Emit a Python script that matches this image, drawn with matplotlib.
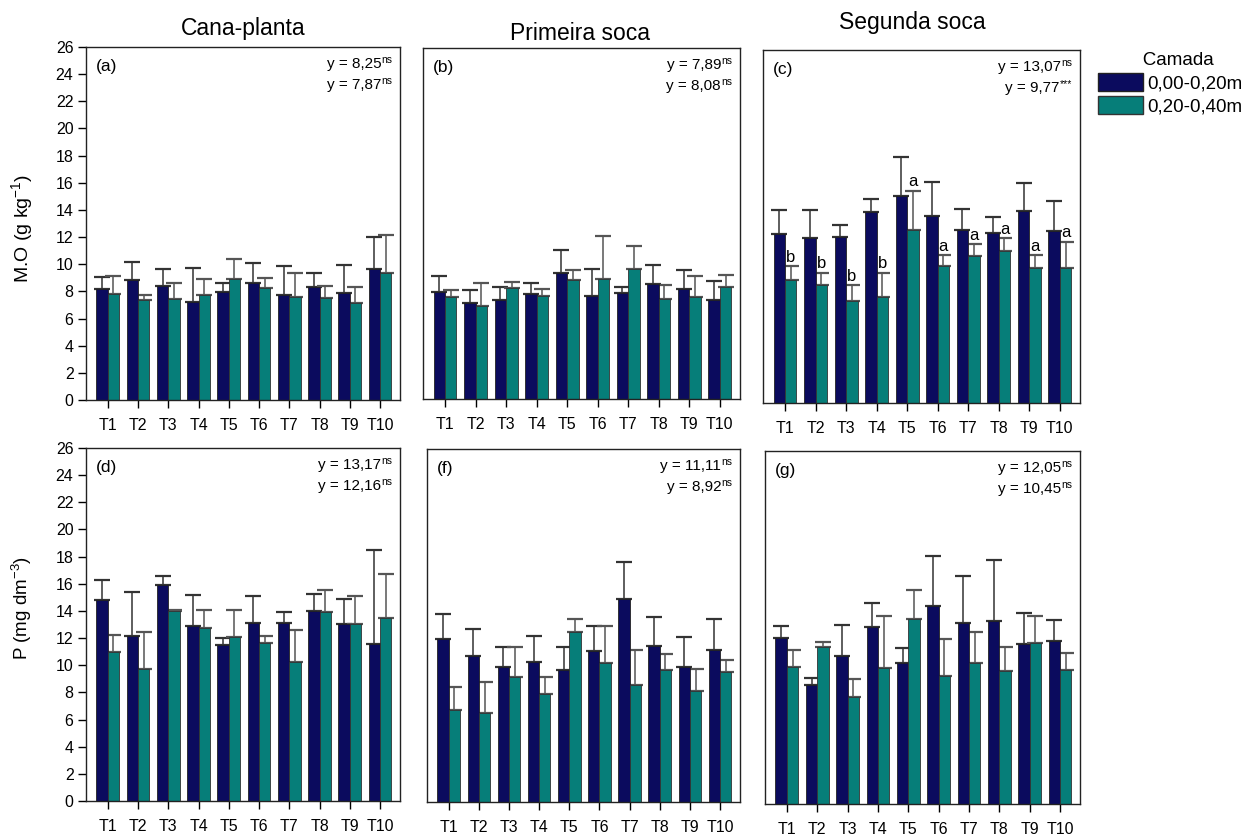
import matplotlib
matplotlib.use("Agg")
import matplotlib.pyplot as plt
import numpy as np
from matplotlib.patches import Patch

plt.rcParams['font.family'] = ['Liberation Sans', 'DejaVu Sans']
plt.rcParams['mathtext.fontset'] = 'custom'
plt.rcParams['mathtext.rm'] = 'Liberation Sans'
plt.rcParams['mathtext.it'] = 'Liberation Sans:italic'

treatments = ["T1", "T2", "T3", "T4", "T5", "T6", "T7", "T8", "T9", "T10"]
layers = ["0,00-0,20m", "0,20-0,40m"]

# (a) M.O - Cana-planta
a_top = [8.16, 8.85, 8.40, 7.25, 7.99, 8.60, 7.74, 8.33, 7.91, 9.68]
a_top_sd = [0.88, 1.35, 1.23, 2.50, 0.66, 1.50, 2.14, 1.01, 2.02, 2.36]
a_sub = [7.81, 7.35, 7.42, 7.74, 8.94, 8.23, 7.59, 7.49, 7.15, 9.34]
a_sub_sd = [1.35, 0.39, 1.23, 1.18, 1.43, 0.76, 1.75, 0.94, 1.15, 2.80]

# (b) M.O - Primeira soca
b_top = [7.93, 7.09, 7.31, 7.80, 9.33, 7.65, 7.88, 8.52, 8.15, 7.33]
b_top_sd = [1.16, 0.96, 0.96, 0.79, 1.68, 1.98, 0.39, 1.41, 1.43, 1.44]
b_sub = [7.56, 6.91, 8.22, 7.65, 8.79, 8.86, 9.65, 7.41, 7.56, 8.30]
b_sub_sd = [0.49, 1.68, 0.42, 0.50, 0.79, 3.19, 1.66, 1.03, 1.53, 0.91]

# (c) M.O - Segunda soca
c_top = [12.46, 12.12, 12.21, 14.05, 15.28, 13.74, 12.75, 12.51, 14.13, 12.68]
c_top_sd = [1.74, 2.08, 0.89, 0.94, 2.85, 2.57, 1.57, 1.20, 2.06, 2.23]
c_sub = [9.08, 8.68, 7.48, 7.82, 12.75, 10.10, 10.84, 11.23, 9.96, 9.93]
c_sub_sd = [1.00, 0.93, 1.18, 1.79, 2.90, 0.77, 0.86, 0.89, 0.93, 1.94]
c_letters = ["b", "b", "b", "b", "a", "a", "a", "a", "a", "a"]

# (d) P - Cana-planta
d_top = [14.81, 12.13, 15.92, 12.87, 11.49, 13.11, 13.11, 13.97, 13.01, 11.59]
d_top_sd = [1.50, 3.27, 0.64, 2.31, 0.49, 2.02, 0.84, 1.28, 1.90, 6.91]
d_sub = [11.00, 9.72, 14.02, 12.74, 12.05, 11.66, 10.21, 13.92, 13.01, 13.48]
d_sub_sd = [1.23, 2.75, 0.08, 1.33, 2.02, 0.52, 2.39, 1.60, 2.12, 3.22]

# (f) P - Primeira soca
f_top = [11.98, 10.77, 9.96, 10.31, 9.74, 11.12, 14.96, 11.46, 9.96, 11.17]
f_top_sd = [1.85, 1.97, 1.43, 1.94, 1.70, 1.87, 2.75, 2.17, 2.22, 2.31]
f_sub = [6.81, 6.59, 9.23, 7.92, 12.55, 10.23, 8.59, 9.69, 8.19, 9.55]
f_sub_sd = [1.68, 2.22, 2.21, 1.28, 0.93, 2.76, 2.58, 1.21, 1.58, 0.88]

# (g) P - Segunda soca
g_top = [12.26, 8.73, 10.91, 13.02, 10.42, 14.59, 13.32, 13.51, 11.80, 12.02]
g_top_sd = [0.86, 0.54, 2.29, 1.79, 1.08, 3.66, 3.48, 4.44, 2.28, 1.52]
g_sub = [10.08, 11.58, 7.87, 10.03, 13.61, 9.44, 10.35, 9.79, 11.87, 9.84]
g_sub_sd = [1.28, 0.37, 1.33, 3.85, 2.16, 2.73, 2.31, 1.76, 2.01, 1.30]

panel_labels = ["(a)", "(b)", "(c)", "(d)", "(f)", "(g)"]
stats_top = ["8,25", "7,89", "13,07", "13,17", "11,11", "12,05"]
stats_sub = ["7,87", "8,08", "9,77", "12,16", "8,92", "10,45"]
sig_top = ["ns", "ns", "ns", "ns", "ns", "ns"]
sig_sub = ["ns", "ns", "***", "ns", "ns", "ns"]
col_titles = ["Cana-planta", "Primeira soca", "Segunda soca"]

navy = "#0b0b5e"
teal = "#067e79"
W, H = 1258, 835

# axes boxes in pixels: left, top, right, bottom
boxes = [(86, 47, 400, 400), (423, 48, 740, 399), (763, 50, 1080, 403),
         (86, 448, 400, 801), (427, 449, 740, 802), (765, 451, 1080, 804)]

panels = [(a_top, a_top_sd, a_sub, a_sub_sd), (b_top, b_top_sd, b_sub, b_sub_sd),
          (c_top, c_top_sd, c_sub, c_sub_sd), (d_top, d_top_sd, d_sub, d_sub_sd),
          (f_top, f_top_sd, f_sub, f_sub_sd), (g_top, g_top_sd, g_sub, g_sub_sd)]


def stat_text(ax, ypos, value, sig):
    # superscript first (right aligned), then the main text hooked to its left edge
    sup = ax.text(0.975, ypos + 0.012, sig, transform=ax.transAxes, fontsize=7.5,
                  ha="right", va="center")
    ax.annotate("y = " + value, xy=(0, 0.5), xycoords=sup, xytext=(0, -3),
                textcoords="offset points", fontsize=11, ha="right", va="center")


fig = plt.figure(figsize=(W / 100, H / 100), dpi=100)
x = np.arange(len(treatments))
w = 0.375

for i, (box, data) in enumerate(zip(boxes, panels)):
    l, t, r, b = box
    ax = fig.add_axes([l / W, 1 - b / H, (r - l) / W, (b - t) / H])
    top, top_sd, sub, sub_sd = data
    ax.bar(x - w / 2, top, w, color=navy, edgecolor="#222222", linewidth=0.6, zorder=2)
    ax.bar(x + w / 2, sub, w, color=teal, edgecolor="#333333", linewidth=0.6, zorder=2)
    ax.errorbar(x - w / 2, top, yerr=[np.zeros(len(top)), top_sd], fmt="none",
                ecolor="#333333", elinewidth=1.1, capsize=5.5, capthick=1.6, zorder=1)
    ax.errorbar(x + w / 2, sub, yerr=[np.zeros(len(sub)), sub_sd], fmt="none",
                ecolor="#555555", elinewidth=1.1, capsize=5.5, capthick=1.6, zorder=1)
    ax.set_xlim(-0.72, 9.66)
    ax.set_ylim(0, 26)
    ax.set_xticks(x)
    ax.set_xticklabels(treatments, fontsize=11.5)
    ax.tick_params(axis="x", direction="out", length=6, width=1, pad=7)
    if i in (0, 3):
        ax.set_yticks(np.arange(0, 27, 2))
        ax.tick_params(axis="y", direction="out", length=6, width=1, labelsize=11.5, pad=3)
    else:
        ax.set_yticks([])
    for s in ax.spines.values():
        s.set_linewidth(1.0)
        s.set_color("#222222")
    ax.text(0.03, 0.945, panel_labels[i], transform=ax.transAxes, fontsize=12.5,
            ha="left", va="center")
    stat_text(ax, 0.952, stats_top[i], sig_top[i])
    stat_text(ax, 0.892, stats_sub[i], sig_sub[i])
    if i == 2:
        for xi, m, sd, let in zip(x, sub, sub_sd, c_letters):
            ax.text(xi + w / 2, m + sd + 0.1, let, fontsize=12, ha="center", va="bottom")

# column titles
fig.text(243 / W, 1 - 28 / H, col_titles[0], fontsize=16.5, ha="center", va="center")
fig.text(580 / W, 1 - 34 / H, col_titles[1], fontsize=16.5, ha="center", va="center")
fig.text(912 / W, 1 - 23 / H, col_titles[2], fontsize=16.5, ha="center", va="center")

# y labels
fig.text(22 / W, 1 - 228 / H, r"M.O (g kg$^{-1}$)", fontsize=14, rotation=90,
         ha="center", va="center")
fig.text(22 / W, 1 - 608 / H, r"P (mg dm$^{-3}$)", fontsize=13.5, rotation=90,
         ha="center", va="center")

handles = [Patch(facecolor=navy, edgecolor="#222222"), Patch(facecolor=teal, edgecolor="#333333")]
leg = fig.legend(handles, layers, title="   Camada", loc="upper left",
                 bbox_to_anchor=(1098 / W, 1 - 52 / H), frameon=False, fontsize=13.5,
                 title_fontsize=13.5, handlelength=2.4, handleheight=1.1,
                 handletextpad=0.2, labelspacing=0.2, borderpad=0.0, borderaxespad=0.0)
leg._legend_box.align = "center"

fig.savefig("out.png", dpi=100)
